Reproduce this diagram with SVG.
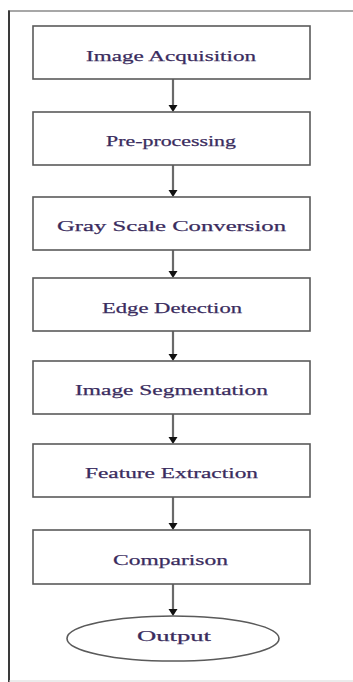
<svg xmlns="http://www.w3.org/2000/svg" width="353" height="682" viewBox="0 0 353 682">
  <style>
    .box { fill: #ffffff; stroke: #5a5a5a; stroke-width: 1.6; }
    .lbl { font-family: "Liberation Serif", "DejaVu Serif", serif; font-size: 15.5px; fill: #3a2c5e; stroke: #3a2c5e; stroke-width: 0.25; text-anchor: start; }
    .link { stroke: #6a6a6a; stroke-width: 2.2; fill: none; }
    .head { fill: #111111; }
  </style>
  <defs>
    <polygon id="arrowhead" class="head" points="-4.5,-7 4.5,-7 0,0"/>
  </defs>
  <rect width="353" height="682" fill="#ffffff"/>

  <!-- frame -->
  <g id="frame">
    <line x1="8" y1="11" x2="353" y2="11" stroke="#8a8a8a" stroke-width="1.6"/>
    <line x1="9" y1="10.5" x2="9" y2="682" stroke="#3a3a3a" stroke-width="2"/>
    <line x1="9" y1="681" x2="353" y2="681" stroke="#d8d8d8" stroke-width="1.2"/>
  </g>

  <!-- connectors -->
  <g id="connectors">
    <line class="link" x1="173" y1="79" x2="173" y2="106"/>
    <use href="#arrowhead" x="173" y="112"/>
    <line class="link" x1="173" y1="165" x2="173" y2="191"/>
    <use href="#arrowhead" x="173" y="197"/>
    <line class="link" x1="173" y1="250" x2="173" y2="272"/>
    <use href="#arrowhead" x="173" y="278"/>
    <line class="link" x1="173" y1="331" x2="173" y2="355"/>
    <use href="#arrowhead" x="173" y="361"/>
    <line class="link" x1="173" y1="414" x2="173" y2="438"/>
    <use href="#arrowhead" x="173" y="444"/>
    <line class="link" x1="173" y1="497" x2="173" y2="524"/>
    <use href="#arrowhead" x="173" y="530"/>
    <line class="link" x1="173" y1="584" x2="173" y2="610"/>
    <use href="#arrowhead" x="173" y="616"/>
  </g>

  <g id="acquisition">
    <rect class="box" x="33" y="26" width="277" height="53"/>
    <text class="lbl" x="86" y="61" textLength="170" lengthAdjust="spacingAndGlyphs">Image Acquisition</text>
  </g>
  <g id="preprocessing">
    <rect class="box" x="33" y="112" width="277" height="53"/>
    <text class="lbl" x="106" y="146" textLength="130" lengthAdjust="spacingAndGlyphs">Pre-processing</text>
  </g>
  <g id="grayscale">
    <rect class="box" x="33" y="197" width="277" height="53"/>
    <text class="lbl" x="57" y="231" textLength="229" lengthAdjust="spacingAndGlyphs">Gray Scale Conversion</text>
  </g>
  <g id="edge">
    <rect class="box" x="33" y="278" width="277" height="53"/>
    <text class="lbl" x="102" y="313" textLength="140" lengthAdjust="spacingAndGlyphs">Edge Detection</text>
  </g>
  <g id="segmentation">
    <rect class="box" x="33" y="361" width="277" height="53"/>
    <text class="lbl" x="75" y="395" textLength="193" lengthAdjust="spacingAndGlyphs">Image Segmentation</text>
  </g>
  <g id="features">
    <rect class="box" x="33" y="444" width="277" height="53"/>
    <text class="lbl" x="85" y="478" textLength="173" lengthAdjust="spacingAndGlyphs">Feature Extraction</text>
  </g>
  <g id="comparison">
    <rect class="box" x="33" y="530" width="277" height="54"/>
    <text class="lbl" x="113" y="565" textLength="115" lengthAdjust="spacingAndGlyphs">Comparison</text>
  </g>
  <g id="output">
    <ellipse class="box" cx="173" cy="638.5" rx="106" ry="22.5"/>
    <text class="lbl" x="137" y="641" textLength="74" lengthAdjust="spacingAndGlyphs">Output</text>
  </g>
</svg>
